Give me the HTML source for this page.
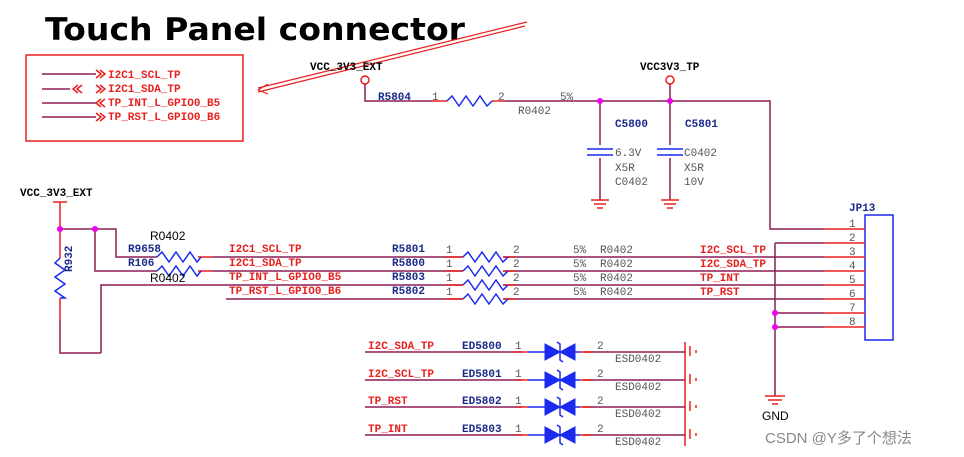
<!DOCTYPE html>
<html><head><meta charset="utf-8"><style>
body{margin:0;background:#fff;width:964px;height:457px;overflow:hidden}
svg{display:block}
.m{font-family:"Liberation Mono",monospace;font-size:11px}
.r{fill:#e8201f;font-weight:bold}
.b{fill:#1a2a8a;font-weight:bold}
.g{fill:#555}
.w{stroke:#8b1e55;stroke-width:1.5;fill:none}
.p{stroke:#e8201f;stroke-width:1.5;fill:none}
.z{stroke:#1a2aee;stroke-width:1.5;fill:none}
</style></head><body>
<svg width="964" height="457" viewBox="0 0 964 457">
<text x="45" y="40" font-family="DejaVu Sans,sans-serif" font-weight="bold" font-size="31" textLength="420" lengthAdjust="spacingAndGlyphs">Touch Panel connector</text>
<rect x="26" y="55" width="217" height="86" fill="none" stroke="#e8201f" stroke-width="1.5"/>
<g class="w"><path d="M42 74H96M42 89H70M42 103H96M42 117H96"/></g>
<g class="p"><path d="M96 70l5 4-5 4M100 70l5 4-5 4M96 85l5 4-5 4M100 85l5 4-5 4M78 85l-5 4 5 4M82 85l-5 4 5 4M101 99l-5 4 5 4M105 99l-5 4 5 4M96 113l5 4-5 4M100 113l5 4-5 4"/></g>
<g class="m r"><text x="108" y="78">I2C1_SCL_TP</text><text x="108" y="92">I2C1_SDA_TP</text><text x="108" y="106">TP_INT_L_GPIO0_B5</text><text x="108" y="120">TP_RST_L_GPIO0_B6</text></g>
<path d="M527 22L258 88M525 26L258 92M258 90l10-6M258 90l10 4" stroke="#e8201f" fill="none" stroke-width="1.2"/>
<text x="310" y="70" class="m" font-weight="bold">VCC_3V3_EXT</text>
<circle cx="365" cy="80" r="4" fill="none" stroke="#e8201f" stroke-width="1.5"/>
<path class="w" d="M365 84V101H432M505 101H770V229H824"/>
<path class="p" d="M432 101H447M492 101H505"/>
<path class="z" d="M447 101l5-5 7 10 7-10 7 10 7-10 7 10 5-5"/>
<text x="378" y="100" class="m b">R5804</text>
<text x="432" y="100" class="m g">1</text><text x="498" y="100" class="m g">2</text>
<text x="518" y="114" class="m g">R0402</text><text x="560" y="100" class="m g">5%</text>
<text x="640" y="70" class="m" font-weight="bold">VCC3V3_TP</text>
<circle cx="670" cy="80" r="4" fill="none" stroke="#e8201f" stroke-width="1.5"/>
<path class="w" d="M670 84V101M600 101V145M600 158V200M670 101V145M670 158V200"/>
<path class="z" d="M587 149H613M587 155H613M657 149H683M657 155H683"/>
<path class="p" d="M591 200H609M594 204H606M597 208H603M661 200H679M664 204H676M667 208H673"/>
<circle cx="600" cy="101" r="3" fill="#e0e"/><circle cx="670" cy="101" r="3" fill="#e0e"/>
<g class="m b"><text x="615" y="127">C5800</text><text x="685" y="127">C5801</text></g>
<g class="m g"><text x="615" y="156">6.3V</text><text x="615" y="171">X5R</text><text x="615" y="185">C0402</text>
<text x="684" y="156">C0402</text><text x="684" y="171">X5R</text><text x="684" y="185">10V</text></g>
<text x="849" y="211" class="m b">JP13</text>
<rect x="865" y="215" width="28" height="125" fill="none" stroke="#1a2aee" stroke-width="1.5"/>
<path class="w" d="M775 243H824M775 243V396M775 313H824M775 327H824"/>
<path class="p" d="M824 229H865M824 243H865M824 257H865M824 271H865M824 285H865M824 299H865M824 313H865M824 327H865M765 396H785M768 400H782M772 404H778"/>
<circle cx="775" cy="313" r="3" fill="#e0e"/><circle cx="775" cy="327" r="3" fill="#e0e"/>
<text x="762" y="420" font-family="Liberation Sans,sans-serif" font-size="12">GND</text>
<g class="m g"><text x="849" y="227">1</text><text x="849" y="241">2</text><text x="849" y="255">3</text><text x="849" y="269">4</text><text x="849" y="283">5</text><text x="849" y="297">6</text><text x="849" y="311">7</text><text x="849" y="325">8</text></g>
<g class="m r"><text x="700" y="253">I2C_SCL_TP</text><text x="700" y="267">I2C_SDA_TP</text><text x="700" y="281">TP_INT</text><text x="700" y="295">TP_RST</text></g>
<text x="20" y="196" class="m" font-weight="bold">VCC_3V3_EXT</text>
<path class="p" d="M53 202H67M60 202V229M60 229V258M60 298V320"/>
<path class="w" d="M60 229H116V257H157M95 229V271H157M213 257H463M213 271H463M101 353V285H463M226 299H463M60 320V353H101M503 257H824M503 271H824M503 285H824M503 299H824"/>
<path class="p" d="M446 257H463M446 271H463M446 285H463M446 299H463M503 257H516M503 271H516M503 285H516M503 299H516M198 257H213M198 271H213"/>
<path class="z" d="M157 257l5-5 7 10 7-10 7 10 7-10 7 10 4-5M157 271l5-5 7 10 7-10 7 10 7-10 7 10 4-5M463 257l5-5 7 10 7-10 7 10 7-10 7 10 5-5M463 271l5-5 7 10 7-10 7 10 7-10 7 10 5-5M463 285l5-5 7 10 7-10 7 10 7-10 7 10 5-5M463 299l5-5 7 10 7-10 7 10 7-10 7 10 5-5M60 258l-5 5 10 7-10 7 10 7-10 7 10 7-5 0"/>
<circle cx="60" cy="229" r="3" fill="#e0e"/><circle cx="95" cy="229" r="3" fill="#e0e"/>
<text x="66" y="272" class="m b" transform="rotate(-90 66 272)" font-size="9" dy="6">R932</text>
<g font-family="Liberation Sans,sans-serif" font-size="12"><text x="150" y="240">R0402</text><text x="150" y="282">R0402</text></g>
<g class="m b"><text x="128" y="252">R9658</text><text x="128" y="266">R106</text>
<text x="392" y="252">R5801</text><text x="392" y="266">R5800</text><text x="392" y="280">R5803</text><text x="392" y="294">R5802</text></g>
<g class="m r"><text x="229" y="252">I2C1_SCL_TP</text><text x="229" y="266">I2C1_SDA_TP</text><text x="229" y="280">TP_INT_L_GPIO0_B5</text><text x="229" y="294">TP_RST_L_GPIO0_B6</text></g>
<g class="m g"><text x="446" y="253">1</text><text x="446" y="267">1</text><text x="446" y="281">1</text><text x="446" y="295">1</text>
<text x="513" y="253">2</text><text x="513" y="267">2</text><text x="513" y="281">2</text><text x="513" y="295">2</text>
<text x="573" y="253">5%</text><text x="573" y="267">5%</text><text x="573" y="281">5%</text><text x="573" y="295">5%</text>
<text x="600" y="253">R0402</text><text x="600" y="267">R0402</text><text x="600" y="281">R0402</text><text x="600" y="295">R0402</text></g>
<path class="p" d="M685 342V446M690 346V356M690 374V384M690 401V411M690 429V439M696 350V353M696 378V381M696 405V408M696 433V436"/>
<g class="w"><path d="M365 352H522M583 352H685M365 380H522M583 380H685M365 407H522M583 407H685M365 435H522M583 435H685"/></g>
<g class="p"><path d="M515 352H528M580 352H593M515 380H528M580 380H593M515 407H528M580 407H593M515 435H528M580 435H593"/></g>
<g fill="#1a2aee" stroke="#1a2aee"><path d="M528 352H580" stroke-width="1.5"/><path d="M545 344L560 352 545 360ZM575 344L560 352 575 360Z"/><path d="M528 380H580" stroke-width="1.5"/><path d="M545 372L560 380 545 388ZM575 372L560 380 575 388Z"/><path d="M528 407H580" stroke-width="1.5"/><path d="M545 399L560 407 545 415ZM575 399L560 407 575 415Z"/><path d="M528 435H580" stroke-width="1.5"/><path d="M545 427L560 435 545 443ZM575 427L560 435 575 443Z"/></g>
<g stroke="#1a2aee" stroke-width="1.5" fill="none"><path d="M557 342L560 344V360L563 362M557 370L560 372V388L563 390M557 397L560 399V415L563 417M557 425L560 427V443L563 445"/></g>
<g class="m r"><text x="368" y="349">I2C_SDA_TP</text><text x="368" y="377">I2C_SCL_TP</text><text x="368" y="404">TP_RST</text><text x="368" y="432">TP_INT</text></g>
<g class="m b"><text x="462" y="349">ED5800</text><text x="462" y="377">ED5801</text><text x="462" y="404">ED5802</text><text x="462" y="432">ED5803</text></g>
<g class="m g"><text x="515" y="349">1</text><text x="515" y="377">1</text><text x="515" y="404">1</text><text x="515" y="432">1</text>
<text x="597" y="349">2</text><text x="597" y="377">2</text><text x="597" y="404">2</text><text x="597" y="432">2</text>
<text x="615" y="362">ESD0402</text><text x="615" y="390">ESD0402</text><text x="615" y="417">ESD0402</text><text x="615" y="445">ESD0402</text></g>
<text x="765" y="443" font-family="Liberation Sans,'Noto Sans CJK SC',sans-serif" font-size="15" fill="#888">CSDN @Y多了个想法</text>
</svg>
</body></html>
